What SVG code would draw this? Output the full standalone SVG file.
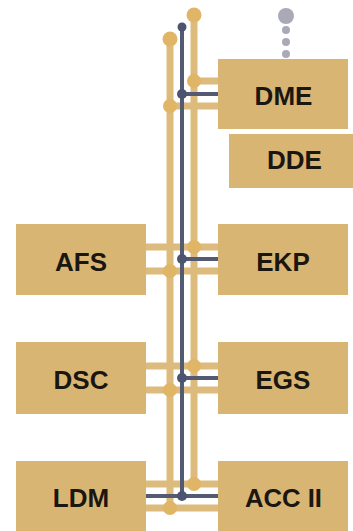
<svg xmlns="http://www.w3.org/2000/svg" width="353" height="531" viewBox="0 0 353 531">
<style>
.box{fill:#d9b573}
.lbl{font-family:"Liberation Sans",Arial,sans-serif;font-weight:700;font-size:26px;fill:#1a1610;text-anchor:middle}
.g{stroke:#dcbb7c;stroke-width:7;fill:none}
.d{stroke:#545a72;stroke-width:4;fill:none}
.gd{fill:#e0b566}
.dd{fill:#4d5470}
.gr{fill:#a9a9b8}
</style>
<rect width="353" height="531" fill="#fff"/>
<g id="connectors">
<path class="g" d="M170 39V508M194 15V484"/>
<path class="g" d="M194 81H218M170 106H218M146 247H218M146 271H218M146 366H218M146 390H218M146 484H218M146 508H218"/>
<path class="d" d="M182 27V496M182 94H218M182 259H218M182 378H218M146 496H218"/>
<circle class="gd" cx="194" cy="15" r="7.5"/>
<circle class="gd" cx="170" cy="39" r="7.5"/>
<circle class="dd" cx="182" cy="27" r="4.5"/>
<circle class="gd" cx="194" cy="81" r="7"/>
<circle class="dd" cx="182" cy="94" r="5"/>
<circle class="gd" cx="170" cy="106" r="7"/>
<circle class="gd" cx="194" cy="247" r="7"/>
<circle class="dd" cx="182" cy="259" r="5"/>
<circle class="gd" cx="170" cy="271" r="7"/>
<circle class="gd" cx="194" cy="366" r="7"/>
<circle class="dd" cx="182" cy="378" r="5"/>
<circle class="gd" cx="170" cy="390" r="7"/>
<circle class="gd" cx="194" cy="484" r="7"/>
<circle class="dd" cx="182" cy="496" r="5"/>
<circle class="gd" cx="170" cy="508" r="7"/>
<circle class="gr" cx="286" cy="16" r="8"/>
<circle class="gr" cx="286" cy="30" r="4"/>
<circle class="gr" cx="286" cy="42" r="4"/>
<circle class="gr" cx="286" cy="54" r="4"/>
</g>
<g id="DDE"><rect class="box" x="229" y="134" width="124" height="54"/><text class="lbl" x="294.5" y="168.500">DDE</text></g>
<g id="DME"><rect class="box" x="218" y="59" width="130" height="70"/><text class="lbl" x="283.500" y="105">DME</text></g>
<g id="AFS"><rect class="box" x="16" y="224" width="130" height="71"/><text class="lbl" x="81" y="271">AFS</text></g>
<g id="EKP"><rect class="box" x="218" y="224" width="130" height="71"/><text class="lbl" x="283" y="271">EKP</text></g>
<g id="DSC"><rect class="box" x="16" y="342" width="130" height="72"/><text class="lbl" x="81" y="389">DSC</text></g>
<g id="EGS"><rect class="box" x="218" y="342" width="130" height="72"/><text class="lbl" x="283" y="389">EGS</text></g>
<g id="LDM"><rect class="box" x="16" y="461" width="130" height="70"/><text class="lbl" x="81" y="507">LDM</text></g>
<g id="ACCII"><rect class="box" x="218" y="461" width="130" height="70"/><text class="lbl" x="283.500" y="507" textLength="77" lengthAdjust="spacingAndGlyphs">ACC II</text></g>
</svg>
